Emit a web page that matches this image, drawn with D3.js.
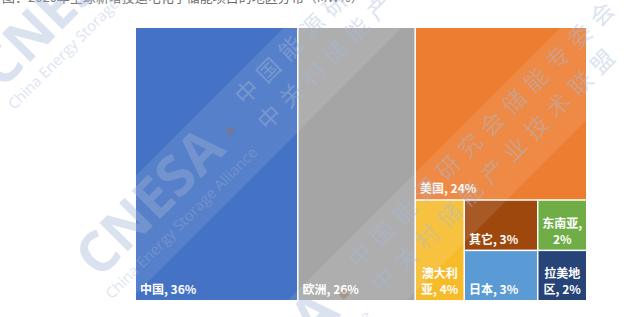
<!DOCTYPE html>
<html>
<head>
<meta charset="utf-8">
<script src="https://cdn.jsdelivr.net/npm/d3@7"></script>
<style>
  html, body { margin: 0; padding: 0; background: #ffffff; }
  svg { display: block; }
</style>
</head>
<body>
<div id="chart"></div>
<script>
// Regional shares of newly commissioned storage capacity (%)
const regions = ["中国", "欧洲", "美国", "澳大利亚", "其它", "东南亚", "日本", "拉美地区"];
const shares  = [36, 26, 24, 4, 3, 2, 3, 2];
// Group path of each region inside the treemap (slice/dice nesting)
const nesting = ["", "", "rest", "rest/lower", "rest/lower/grid/top", "rest/lower/grid/top",
                 "rest/lower/grid/bottom", "rest/lower/grid/bottom"];
const palette = ["#4472C4", "#A5A5A5", "#ED7D31", "#F7BB2A", "#9E480E", "#70AD47", "#5B9BD5", "#264478"];

const title = "图：2020年全球新增投运电化学储能项目的地区分布（MW%）";

const W = 640, H = 317;
const frame = { left: 136, top: 28, right: 586, bottom: 300 };

const svg = d3.select("#chart").append("svg")
  .attr("width", W).attr("height", H)
  .attr("viewBox", `0 0 ${W} ${H}`);

// heading line, only its lower edge falls inside the view
svg.append("text")
  .attr("x", 2).attr("y", 1.5)
  .attr("font-family", "'Noto Sans CJK SC', sans-serif")
  .attr("font-size", 13)
  .attr("fill", "#6b6b6b")
  .text(title);

// build the nested tree from the flat arrays
const rootData = { name: "root", children: [] };
regions.forEach((r, i) => {
  let node = rootData;
  nesting[i].split("/").filter(Boolean).forEach(k => {
    let c = node.children.find(d => d.name === k && d.children);
    if (!c) { c = { name: k, children: [] }; node.children.push(c); }
    node = c;
  });
  node.children.push({ name: r, value: shares[i], color: palette[i] });
});

const root = d3.hierarchy(rootData).sum(d => d.value || 0);
d3.treemap()
  .tile(d3.treemapSliceDice)
  .size([frame.right - frame.left, frame.bottom - frame.top])
  .paddingInner(1.5)
  .round(false)(root);

const plot = svg.append("g").attr("transform", `translate(${frame.left},${frame.top})`);

const leaves = root.leaves();
const cells = plot.selectAll("g.cell").data(leaves).join("g").attr("class", "cell");

cells.append("rect")
  .attr("x", d => d.x0).attr("y", d => d.y0)
  .attr("width", d => d.x1 - d.x0).attr("height", d => d.y1 - d.y0)
  .attr("fill", d => d.data.color);

// labels: bottom-left; wrapped labels are centred in narrow cells
const fontFam = "'Noto Sans CJK SC', 'Microsoft YaHei', sans-serif";
const measure = svg.append("text")
  .attr("font-family", fontFam).attr("font-size", 12).attr("font-weight", 700)
  .attr("visibility", "hidden");
function textW(s) { measure.text(s); return measure.node().getComputedTextLength(); }

function wrap(label, maxW) {
  if (textW(label) <= maxW) return [label];
  const tokens = label.split(" ");
  const lines = [];
  let cur = "";
  tokens.forEach(tok => {
    const tryLine = cur ? cur + " " + tok : tok;
    if (textW(tryLine) <= maxW) { cur = tryLine; return; }
    if (cur) { lines.push(cur); cur = ""; }
    if (textW(tok) <= maxW) { cur = tok; return; }
    // break by characters
    for (const ch of tok) {
      if (textW(cur + ch) <= maxW) cur += ch;
      else { lines.push(cur); cur = ch; }
    }
  });
  if (cur) lines.push(cur);
  return lines;
}

cells.each(function(d) {
  const g = d3.select(this);
  const label = `${d.data.name}, ${d.data.value}%`;
  const w = d.x1 - d.x0;
  const lines = wrap(label, w - 6);
  const lh = 16;
  const t = g.append("text")
    .attr("font-family", fontFam).attr("font-size", 12).attr("font-weight", 700)
    .attr("fill", "#ffffff");
  lines.forEach((ln, i) => {
    const base = d.y1 - 6 - (lines.length - 1 - i) * lh;
    if (lines.length > 1) {
      t.append("tspan").attr("x", (d.x0 + d.x1) / 2).attr("y", base)
        .attr("text-anchor", "middle").text(ln);
    } else {
      t.append("tspan").attr("x", d.x0 + 4).attr("y", base).text(ln);
    }
  });
});
measure.remove();

// watermark copies, laid out along a -45° direction
const wm = svg.append("g").attr("pointer-events", "none");
const copies = [[65, -203], [0, 0], [-35, 196]];
const s2 = Math.SQRT1_2;
copies.forEach(([al, pp]) => {
  const ox = (al + pp) * s2, oy = (pp - al) * s2;
  const g = wm.append("g").attr("transform", `translate(${ox},${oy}) rotate(-45)`);
  g.append("rect")
    .attr("x", -500).attr("y", 220).attr("width", 1200).attr("height", 84)
    .attr("fill", "#ffffff").attr("opacity", 0.1);
  g.append("text")
    .attr("x", -128).attr("y", 268)
    .attr("font-family", "'Open Sans', 'Liberation Sans', sans-serif")
    .attr("font-weight", 700).attr("font-size", 56)
    .attr("fill", "#9fb3d6").attr("opacity", 0.38)
    .text("CNESA");
  g.append("rect")
    .attr("x", 66).attr("y", 252).attr("width", 8).attr("height", 7)
    .attr("fill", "#9e6a4a").attr("opacity", 0.35);
  g.append("text")
    .attr("x", -133).attr("y", 291)
    .attr("font-family", "'Open Sans', sans-serif")
    .attr("font-size", 15)
    .attr("fill", "#9fb3d6").attr("opacity", 0.35)
    .text("China Energy Storage Alliance");
  g.append("text")
    .attr("x", 98).attr("y", 248)
    .attr("font-family", fontFam).attr("font-size", 23)
    .attr("letter-spacing", 8)
    .attr("fill", "#a9bbd9").attr("opacity", 0.4)
    .text("中国能源研究会储能专委会");
  g.append("text")
    .attr("x", 96).attr("y", 282)
    .attr("font-family", fontFam).attr("font-size", 23)
    .attr("letter-spacing", 8)
    .attr("fill", "#a9bbd9").attr("opacity", 0.4)
    .text("中关村储能产业技术联盟");
});
</script>
</body>
</html>
